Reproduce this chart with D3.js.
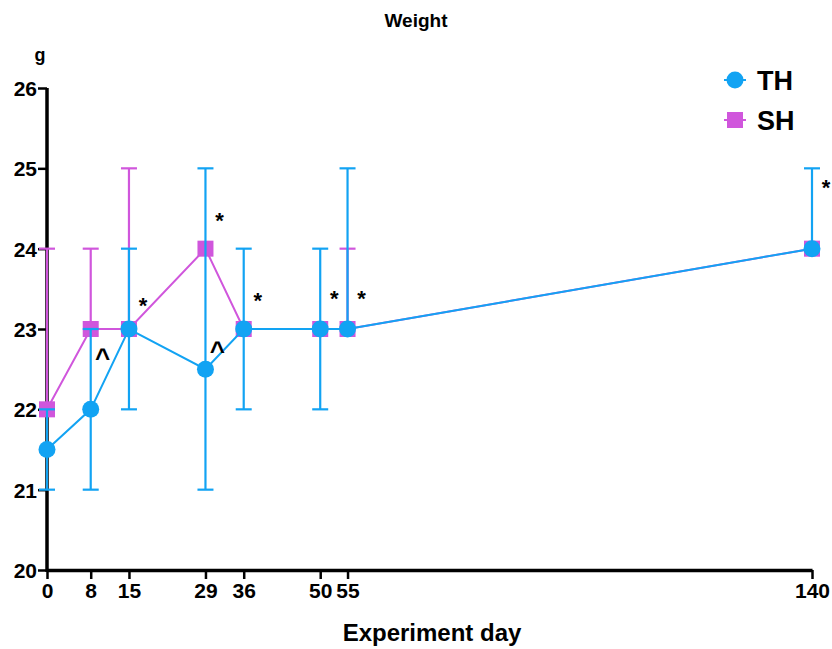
<!DOCTYPE html>
<html>
<head>
<meta charset="utf-8">
<script src="https://cdn.jsdelivr.net/npm/d3@7"></script>
<style>
  body { margin: 0; background: #fff; }
  text { font-family: "Liberation Sans", Arial, sans-serif; font-weight: bold; }
</style>
</head>
<body>
<div id="chart"></div>
<script>
// data
var days = [0, 8, 15, 29, 36, 50, 55, 140];
var thMean = [21.5, 22, 23, 22.5, 23, 23, 23, 24];
var thLow  = [21, 21, 22, 21, 22, 22, 23, 24];
var thHigh = [22, 23, 24, 25, 24, 24, 25, 25];
var shMean = [22, 23, 23, 24, 23, 23, 23, 24];
var shHigh = [24, 24, 25, 24, 23, 23, 24, 24];
var yTicks = [20, 21, 22, 23, 24, 25, 26];
// significance marks: [day, value, symbol]
var marks = [[15, 23.36, "*"], [8, 22.71, "^"], [29, 24.42, "*"], [29, 22.8, "^"],
             [36, 23.42, "*"], [50, 23.45, "*"], [55, 23.45, "*"], [140, 24.83, "*"]];

var blue = "#12a3f3", purple = "#d056dc";

var svg = d3.select("#chart").append("svg")
  .attr("width", 832).attr("height", 649);

var x = d3.scaleLinear().domain([0, 140]).range([47, 812]);
var y = d3.scaleLinear().domain([20, 26]).range([570, 88]);

// title
svg.append("text").attr("x", 416).attr("y", 27).attr("text-anchor", "middle")
  .style("font-size", "19px").text("Weight");
svg.append("text").attr("x", 40).attr("y", 61).attr("text-anchor", "middle")
  .style("font-size", "18px").text("g");

// axes
var yAxis = svg.append("g").attr("transform", "translate(47,0)")
  .call(d3.axisLeft(y).tickValues(yTicks).tickFormat(d3.format("d")).tickSize(9).tickSizeOuter(0));
var xAxis = svg.append("g").attr("transform", "translate(0,570)")
  .call(d3.axisBottom(x).tickValues(days).tickFormat(d3.format("d")).tickSize(9).tickSizeOuter(0));
[yAxis, xAxis].forEach(function(a) {
  a.select(".domain").attr("stroke-width", 3.5);
  a.selectAll(".tick line").attr("stroke-width", 2.5);
  a.selectAll("text").attr("fill", "#000")
    .style("font-size", "21px").style("font-family", "'Liberation Sans Narrow', 'Liberation Sans', Arial")
    .style("font-weight", "bold");
});
yAxis.selectAll("text").attr("x", -10).attr("dy", "0.36em");
xAxis.selectAll("text").attr("y", 13).attr("dy", "0.71em");
yAxis.select(".domain").attr("d", "M0,88V572");

svg.append("text").attr("x", 432).attr("y", 641).attr("text-anchor", "middle")
  .style("font-size", "24px").text("Experiment day");

var line = d3.line().x(function(d) { return x(d[0]); }).y(function(d) { return y(d[1]); });

// SH (behind): only upper bars
var gs = svg.append("g").attr("stroke", purple).attr("stroke-width", 2.2);
days.forEach(function(d, i) {
  if (shHigh[i] <= shMean[i]) return;
  gs.append("line").attr("x1", x(d)).attr("x2", x(d)).attr("y1", y(shMean[i])).attr("y2", y(shHigh[i]));
  gs.append("line").attr("x1", x(d) - 8).attr("x2", x(d) + 8).attr("y1", y(shHigh[i])).attr("y2", y(shHigh[i]));
});
svg.append("path").datum(days.map(function(d, i) { return [d, shMean[i]]; }))
  .attr("d", line).attr("fill", "none").attr("stroke", purple).attr("stroke-width", 2);
svg.selectAll(".sq").data(days).enter().append("rect")
  .attr("x", function(d) { return x(d) - 8; })
  .attr("y", function(d, i) { return y(shMean[i]) - 8; })
  .attr("width", 16).attr("height", 16).attr("fill", purple);

// TH (front)
var g = svg.append("g").attr("stroke", blue).attr("stroke-width", 2.2);
days.forEach(function(d, i) {
  g.append("line").attr("x1", x(d)).attr("x2", x(d)).attr("y1", y(thLow[i])).attr("y2", y(thHigh[i]));
  if (thLow[i] < thMean[i])
    g.append("line").attr("x1", x(d) - 8).attr("x2", x(d) + 8).attr("y1", y(thLow[i])).attr("y2", y(thLow[i]));
  if (thHigh[i] > thMean[i])
    g.append("line").attr("x1", x(d) - 8).attr("x2", x(d) + 8).attr("y1", y(thHigh[i])).attr("y2", y(thHigh[i]));
});
svg.append("path").datum(days.map(function(d, i) { return [d, thMean[i]]; }))
  .attr("d", line).attr("fill", "none").attr("stroke", blue).attr("stroke-width", 2);
svg.selectAll(".dot").data(days).enter().append("circle")
  .attr("cx", function(d) { return x(d); })
  .attr("cy", function(d, i) { return y(thMean[i]); })
  .attr("r", 8.5).attr("fill", blue);

// significance marks
svg.selectAll(".mk").data(marks).enter().append("text")
  .attr("x", function(d) { return x(d[0]) + (d[2] === "^" ? 12 : 14); })
  .attr("y", function(d) { return y(d[1]) + (d[2] === "^" ? 15 : 13); })
  .attr("text-anchor", "middle")
  .style("font-size", function(d) { return d[2] === "^" ? "26px" : "22px"; })
  .text(function(d) { return d[2]; });

// legend
var lg = svg.append("g").attr("transform", "translate(735,80)");
lg.append("line").attr("x1", -11).attr("x2", 11).attr("stroke", blue).attr("stroke-width", 2);
lg.append("circle").attr("r", 8.5).attr("fill", blue);
lg.append("text").attr("x", 22).attr("y", 10).style("font-size", "27px").text("TH");
lg.append("line").attr("x1", -11).attr("x2", 11).attr("y1", 40).attr("y2", 40).attr("stroke", purple).attr("stroke-width", 2);
lg.append("rect").attr("x", -8).attr("y", 32).attr("width", 16).attr("height", 16).attr("fill", purple);
lg.append("text").attr("x", 22).attr("y", 50).style("font-size", "27px").text("SH");
</script>
</body>
</html>
